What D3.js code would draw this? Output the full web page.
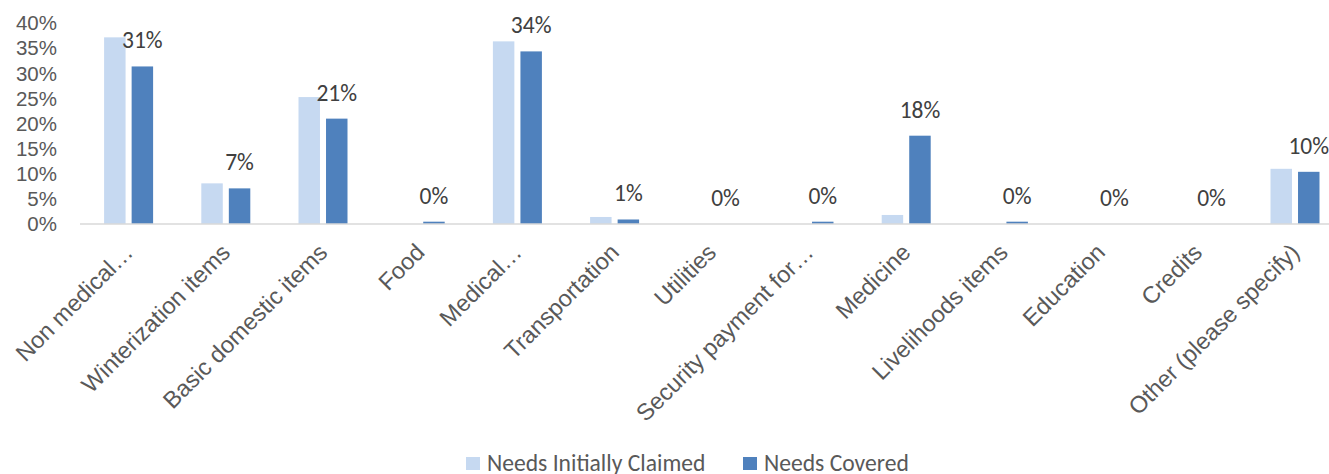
<!DOCTYPE html>
<html><head><meta charset="utf-8">
<script src="https://cdn.jsdelivr.net/npm/d3@7"></script>
<style>body{margin:0;background:#fff;} svg{display:block;}</style>
</head><body>
<script>
const categories = ["Non medical…","Winterization items","Basic domestic items","Food","Medical…","Transportation","Utilities","Security payment for…","Medicine","Livelihoods items","Education","Credits","Other (please specify)"];
const seriesNames = ["Needs Initially Claimed","Needs Covered"];
const claimed = [37.2, 8.1, 25.3, 0, 36.4, 1.4, 0, 0, 1.8, 0, 0, 0, 11.0];
const covered = [31.4, 7.1, 21.0, 0.46, 34.4, 0.9, 0, 0.46, 17.6, 0.46, 0, 0, 10.4];
const yTicks = [0,5,10,15,20,25,30,35,40];
const colors = ["#c6d9f1", "#4f81bd"];

const W = 1329, H = 474;
const ARIAL = "'Liberation Sans', Arial, sans-serif";
const CALIBRI = "Carlito, Lato, sans-serif";
const svg = d3.select("body").append("svg").attr("width", W).attr("height", H);

const x = d3.scaleBand().domain(categories).range([80, 1343.6]);
const x1 = d3.scaleBand().domain(seriesNames)
  .range([x.bandwidth()/2 - 24.5, x.bandwidth()/2 + 24.5]).paddingInner(0.22);
const y = d3.scaleLinear().domain([0, 40]).range([224, 23.3]);

// y axis labels
const yAxis = d3.axisLeft(y).tickValues(yTicks).tickFormat(d => d + "%").tickSize(0).tickPadding(0);
const gy = svg.append("g").attr("transform", "translate(57,0)").call(yAxis);
gy.select(".domain").remove();
gy.attr("font-family", null).attr("font-size", null);
gy.selectAll("text").style("font-family", ARIAL)
  .style("font-size", "20.5px").attr("fill", "#595959");

const data = categories.map((c, i) => ({cat: c, vals: [claimed[i], covered[i]]}));

const groups = svg.append("g").selectAll("g").data(data).join("g")
  .attr("transform", d => `translate(${x(d.cat)},0)`);
groups.selectAll("rect").data(d => d.vals.map((v, j) => ({v, s: seriesNames[j], j})))
  .join("rect")
  .attr("x", d => x1(d.s)).attr("width", x1.bandwidth())
  .attr("y", d => y(d.v)).attr("height", d => y(0) - y(d.v))
  .attr("fill", d => colors[d.j]);

// baseline
svg.append("line").attr("x1", x.range()[0]).attr("x2", x.range()[1])
  .attr("y1", y(0)).attr("y2", y(0)).attr("stroke", "#d9d9d9").attr("stroke-width", 1.5);

// data labels for covered
const fmt = d3.format(".0f");
groups.append("text")
  .attr("x", x1(seriesNames[1]) + x1.bandwidth()/2)
  .attr("y", d => y(d.vals[1]) - 18)
  .attr("text-anchor", "middle")
  .style("font-family", CALIBRI).style("font-size", "23.5px")
  .attr("fill", "#404040")
  .text(d => fmt(d.vals[1]) + "%");

// x axis labels
const xAxis = d3.axisBottom(x).tickSize(0).tickPadding(0);
const gx = svg.append("g").attr("transform", `translate(0,${y(0)})`).call(xAxis);
gx.select(".domain").remove();
gx.attr("font-family", null).attr("font-size", null);
gx.selectAll("text")
  .style("font-family", ARIAL).style("font-size", "23.5px")
  .attr("fill", "#595959")
  .attr("text-anchor", "end")
  .attr("y", 0).attr("dy", "0.35em")
  .attr("transform", "translate(0,24) rotate(-45)");

// legend
const leg = svg.append("g");
const legX = [466, 743];
seriesNames.forEach((s, i) => {
  leg.append("rect").attr("x", legX[i]).attr("y", 457).attr("width", 14).attr("height", 13).attr("fill", colors[i]);
  leg.append("text").attr("x", legX[i] + 21).attr("y", 470.5)
    .style("font-family", CALIBRI).style("font-size", "23.6px")
    .attr("fill", "#595959").text(s);
});
</script>
</body></html>
